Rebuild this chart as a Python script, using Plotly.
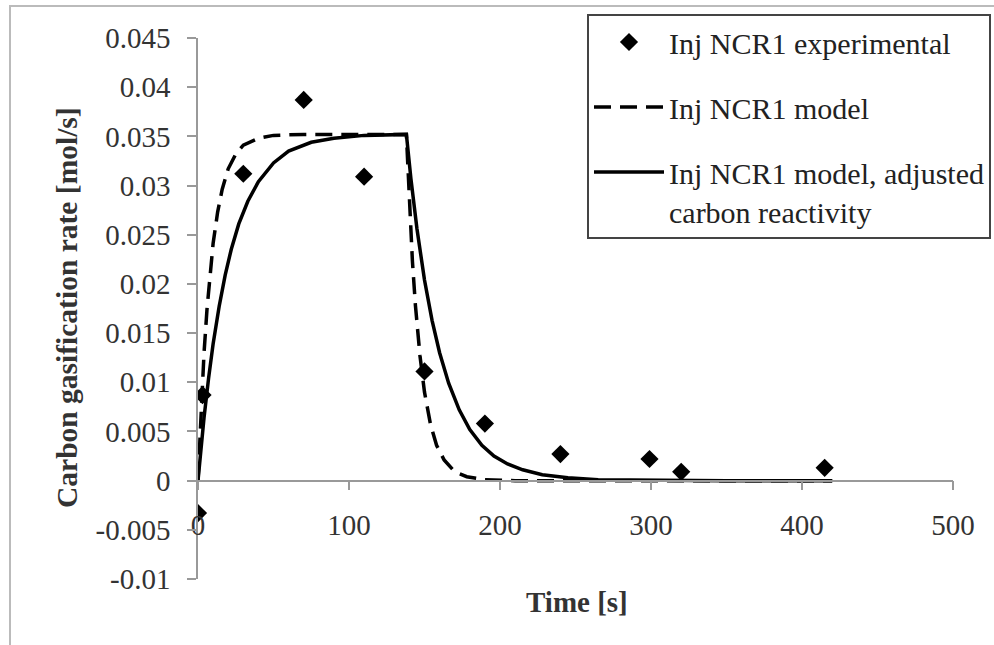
import plotly.graph_objects as go

# ---- data ----
exp_t = [0, 3, 30, 70, 110, 150, 190, 240, 299, 320, 415]
exp_rate = [-0.0033, 0.0087, 0.0312, 0.0387, 0.0309, 0.0111, 0.0058, 0.0027, 0.0022, 0.0009, 0.0013]

model_t = [0, 1, 2, 3, 4, 6, 8, 10, 13, 16, 20, 25, 30, 40, 50, 70, 138,
           140, 142, 144, 147, 150, 154, 158, 163, 170, 178, 190, 210, 420]
model_rate = [0, 0.0038, 0.0072, 0.0103, 0.0130, 0.0175, 0.0212, 0.0241, 0.0273, 0.0296, 0.0317,
              0.0332, 0.0341, 0.0348, 0.0351, 0.0352, 0.0352,
              0.0280, 0.0223, 0.0178, 0.0127, 0.0090, 0.0057, 0.0036, 0.0021, 0.0009, 0.0004,
              0.0001, 0, 0]

adj_t = [0, 2, 4, 7, 10, 14, 18, 22, 27, 33, 40, 50, 60, 75, 90, 110, 138,
         141, 145, 150, 155, 160, 166, 173, 180, 188, 196, 205, 215, 228, 245, 265, 300, 350, 420]
adj_rate = [0, 0.0034, 0.0064, 0.0104, 0.0139, 0.0177, 0.0209, 0.0235, 0.0261, 0.0284, 0.0304,
            0.0323, 0.0335, 0.0344, 0.0348, 0.0351, 0.0352,
            0.0307, 0.0256, 0.0204, 0.0163, 0.0130, 0.0099, 0.0072, 0.0052, 0.0036, 0.0025,
            0.0017, 0.0011, 0.0006, 0.0003, 0.0001, 0.00004, 0, 0]

x_tick_vals = [0, 100, 200, 300, 400, 500]
x_tick_text = ["0", "100", "200", "300", "400", "500"]
y_tick_vals = [-0.01, -0.005, 0, 0.005, 0.01, 0.015, 0.02, 0.025, 0.03, 0.035, 0.04, 0.045]
y_tick_text = ["-0.01", "-0.005", "0", "0.005", "0.01", "0.015", "0.02", "0.025",
               "0.03", "0.035", "0.04", "0.045"]
x_range = [0, 500]
y_range = [-0.01, 0.045]

series_names = ["Inj NCR1 experimental", "Inj NCR1 model",
                "Inj NCR1 model, adjusted<br>carbon reactivity"]

FONT = "Liberation Serif"

fig = go.Figure()
fig.add_trace(go.Scatter(
    x=model_t, y=model_rate, mode="lines", name=series_names[1],
    legendgroup="b", legendrank=2,
    line=dict(color="black", width=3.5, dash="17px,9px")))
fig.add_trace(go.Scatter(
    x=adj_t, y=adj_rate, mode="lines", name=series_names[2],
    legendgroup="c", legendrank=3,
    line=dict(color="black", width=3.5)))
fig.add_trace(go.Scatter(
    x=exp_t, y=exp_rate, mode="markers", name=series_names[0],
    legendgroup="a", legendrank=1,
    marker=dict(symbol="diamond", size=14, color="black")))

zero_pos = (0 - y_range[0]) / (y_range[1] - y_range[0])

fig.update_layout(
    width=994, height=645,
    margin=dict(l=198, r=41, t=38, b=66, autoexpand=False),
    paper_bgcolor="white", plot_bgcolor="white",
    font=dict(family=FONT, size=29, color="#222"),
    showlegend=True,
    legend=dict(
        x=(587 - 198) / 755, y=1 + 24 / 541, xanchor="left", yanchor="top",
        bgcolor="white", bordercolor="#444", borderwidth=2,
        font=dict(family=FONT, size=30, color="#222"),
        itemwidth=70, tracegroupgap=23, valign="top",
        traceorder="grouped",
    ),
    xaxis=dict(
        range=x_range, anchor="free", position=zero_pos,
        tickvals=x_tick_vals, ticktext=x_tick_text,
        showgrid=False, zeroline=False,
        showline=True, linecolor="#999", linewidth=1.5,
        ticks="outside", ticklen=9, tickcolor="#999", tickwidth=1.5,
        ticklabelstandoff=10,
        tickfont=dict(family=FONT, size=29, color="#333"),
    ),
    yaxis=dict(
        range=y_range,
        tickvals=y_tick_vals, ticktext=y_tick_text,
        showgrid=False, zeroline=False,
        showline=True, linecolor="#999", linewidth=1.5,
        ticks="outside", ticklen=9, tickcolor="#999", tickwidth=1.5,
        ticklabelstandoff=11,
        tickfont=dict(family=FONT, size=29, color="#333"),
    ),
    annotations=[
        dict(text="<b>Carbon gasification rate [mol/s]</b>", xref="paper", yref="paper",
             x=(67 - 198) / 755, y=(579 - 308) / 541, textangle=-90, showarrow=False,
             font=dict(family=FONT, size=29.5, color="#333"), xanchor="center", yanchor="middle"),
        dict(text="<b>Time [s]</b>", xref="paper", yref="paper",
             x=(577 - 198) / 755, y=(579 - 602) / 541, showarrow=False,
             font=dict(family=FONT, size=29, color="#333"), xanchor="center", yanchor="middle"),
    ],
    shapes=[
        dict(type="rect", xref="paper", yref="paper",
             x0=(10 - 198) / 755, x1=1.3, y0=-0.3, y1=(579 - 6) / 541,
             line=dict(color="#bbb", width=2), layer="below"),
    ],
)

fig.write_html("out.html")
